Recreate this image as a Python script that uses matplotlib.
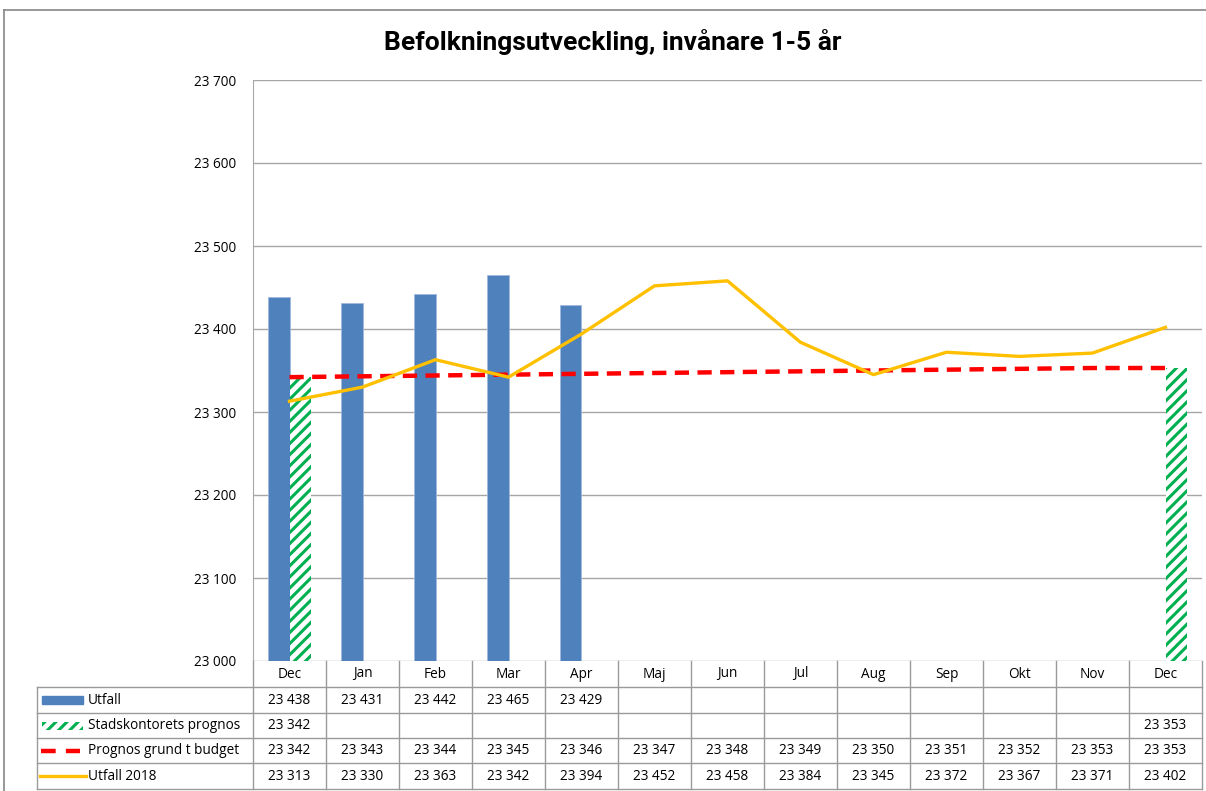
import matplotlib
matplotlib.use('Agg')
from matplotlib import pyplot as plt
from matplotlib.patches import Rectangle
import numpy as np

plt.rcParams['font.family'] = ['Open Sans', 'DejaVu Sans']
plt.rcParams['hatch.linewidth'] = 2.2

# data
months = ['Dec', 'Jan', 'Feb', 'Mar', 'Apr', 'Maj', 'Jun', 'Jul', 'Aug', 'Sep', 'Okt', 'Nov', 'Dec']
utfall = [23438, 23431, 23442, 23465, 23429, None, None, None, None, None, None, None, None]
stads_prognos = [23342, None, None, None, None, None, None, None, None, None, None, None, 23353]
prognos_budget = [23342, 23343, 23344, 23345, 23346, 23347, 23348, 23349, 23350, 23351, 23352, 23353, 23353]
utfall_2018 = [23313, 23330, 23363, 23342, 23394, 23452, 23458, 23384, 23345, 23372, 23367, 23371, 23402]
yticks = [23000, 23100, 23200, 23300, 23400, 23500, 23600, 23700]

blue = '#4f81bd'
green = '#00b050'
red = '#ff0000'
gold = '#ffc000'
grid_col = '#a6a6a6'
fs = 9.8

W, H = 1206, 791
fig = plt.figure(figsize=(W / 100, H / 100), dpi=100)

# plot area in pixels
px_left, px_right, px_top, px_bot = 253, 1202, 80, 661
ax = fig.add_axes([px_left / W, 1 - px_bot / H, (px_right - px_left) / W, (px_bot - px_top) / H])

n = len(months)
x = np.arange(n)
bw = 0.29

def to_arr(v):
    return np.array([np.nan if a is None else a for a in v], dtype=float)

ax.bar(x - bw / 2, to_arr(utfall), width=bw, color=blue, edgecolor='#9fb9dd', linewidth=0.6, zorder=2)
ax.bar(x + bw / 2, to_arr(stads_prognos), width=bw, facecolor='white', edgecolor=green,
       hatch='///', linewidth=0, zorder=2)
ax.plot(x, prognos_budget, color=red, lw=3.2, dashes=(3.2, 1.9), zorder=3)
ax.plot(x, utfall_2018, color=gold, lw=2.4, zorder=4)

ax.set_xlim(-0.5, n - 0.5)
ax.set_ylim(23000, 23700)
ax.set_yticks(yticks)
ax.set_yticklabels(['{:,}'.format(v).replace(',', ' ') for v in yticks], fontsize=fs)
ax.tick_params(axis='y', length=0, pad=12)
ax.set_xticks([])
ax.yaxis.grid(True, color=grid_col, lw=1)
ax.set_axisbelow(True)
for s in ['top', 'right', 'bottom']:
    ax.spines[s].set_visible(False)
ax.spines['left'].set_color(grid_col)

# overlay in pixel coordinates for frame, title and data table
ov = fig.add_axes([0, 0, 1, 1], zorder=5)
ov.set_xlim(0, W)
ov.set_ylim(H, 0)
ov.axis('off')
ov.patch.set_alpha(0)

# chart frame
ov.plot([4, W], [10, 10], color='#868686', lw=1.2)
ov.plot([4, 4], [10, H], color='#868686', lw=1.2)

ov.text(613, 42, 'Befolkningsutveckling, invånare 1-5 år', ha='center', va='center',
        fontsize=19, fontweight='bold', family=['Roboto', 'DejaVu Sans'])

colw = (px_right - px_left) / n
edges = [px_left + colw * i for i in range(n + 1)]
row_y = [661, 687, 713, 738, 763, 789]
leg_left = 37
tcol = '#9a9a9a'

# table grid
for e in edges:
    ov.plot([e, e], [row_y[0], row_y[-1]], color=tcol, lw=1)
for yy in row_y[1:]:
    ov.plot([leg_left, px_right], [yy, yy], color=tcol, lw=1)
ov.plot([leg_left, leg_left], [row_y[1], row_y[-1]], color=tcol, lw=1)
for i, m in enumerate(months):
    ov.text((edges[i] + edges[i + 1]) / 2, (row_y[0] + row_y[1]) / 2, m, ha='center', va='center', fontsize=fs)

rows = [('Utfall', utfall), ('Stadskontorets prognos', stads_prognos),
        ('Prognos grund t budget', prognos_budget), ('Utfall 2018', utfall_2018)]
for r, (name, vals) in enumerate(rows):
    yc = (row_y[r + 1] + row_y[r + 2]) / 2
    for i, v in enumerate(vals):
        if v is not None:
            ov.text((edges[i] + edges[i + 1]) / 2, yc, '{:,}'.format(v).replace(',', ' '),
                    ha='center', va='center', fontsize=fs)
    ov.text(88, yc, name, ha='left', va='center', fontsize=fs)

# legend keys
y0 = (row_y[1] + row_y[2]) / 2
ov.add_patch(Rectangle((42, y0 - 4), 41, 8, color=blue))
y1 = (row_y[2] + row_y[3]) / 2
ov.add_patch(Rectangle((42, y1 - 4), 41, 8, facecolor='white', edgecolor=green, hatch='///', lw=0))
y2 = (row_y[3] + row_y[4]) / 2
ov.plot([41, 80], [y2, y2], color=red, lw=3.2, dashes=(3.3, 2.3))
y3 = (row_y[4] + row_y[5]) / 2
ov.plot([40, 86], [y3, y3], color=gold, lw=2.4)

fig.savefig('out.png', dpi=100)
